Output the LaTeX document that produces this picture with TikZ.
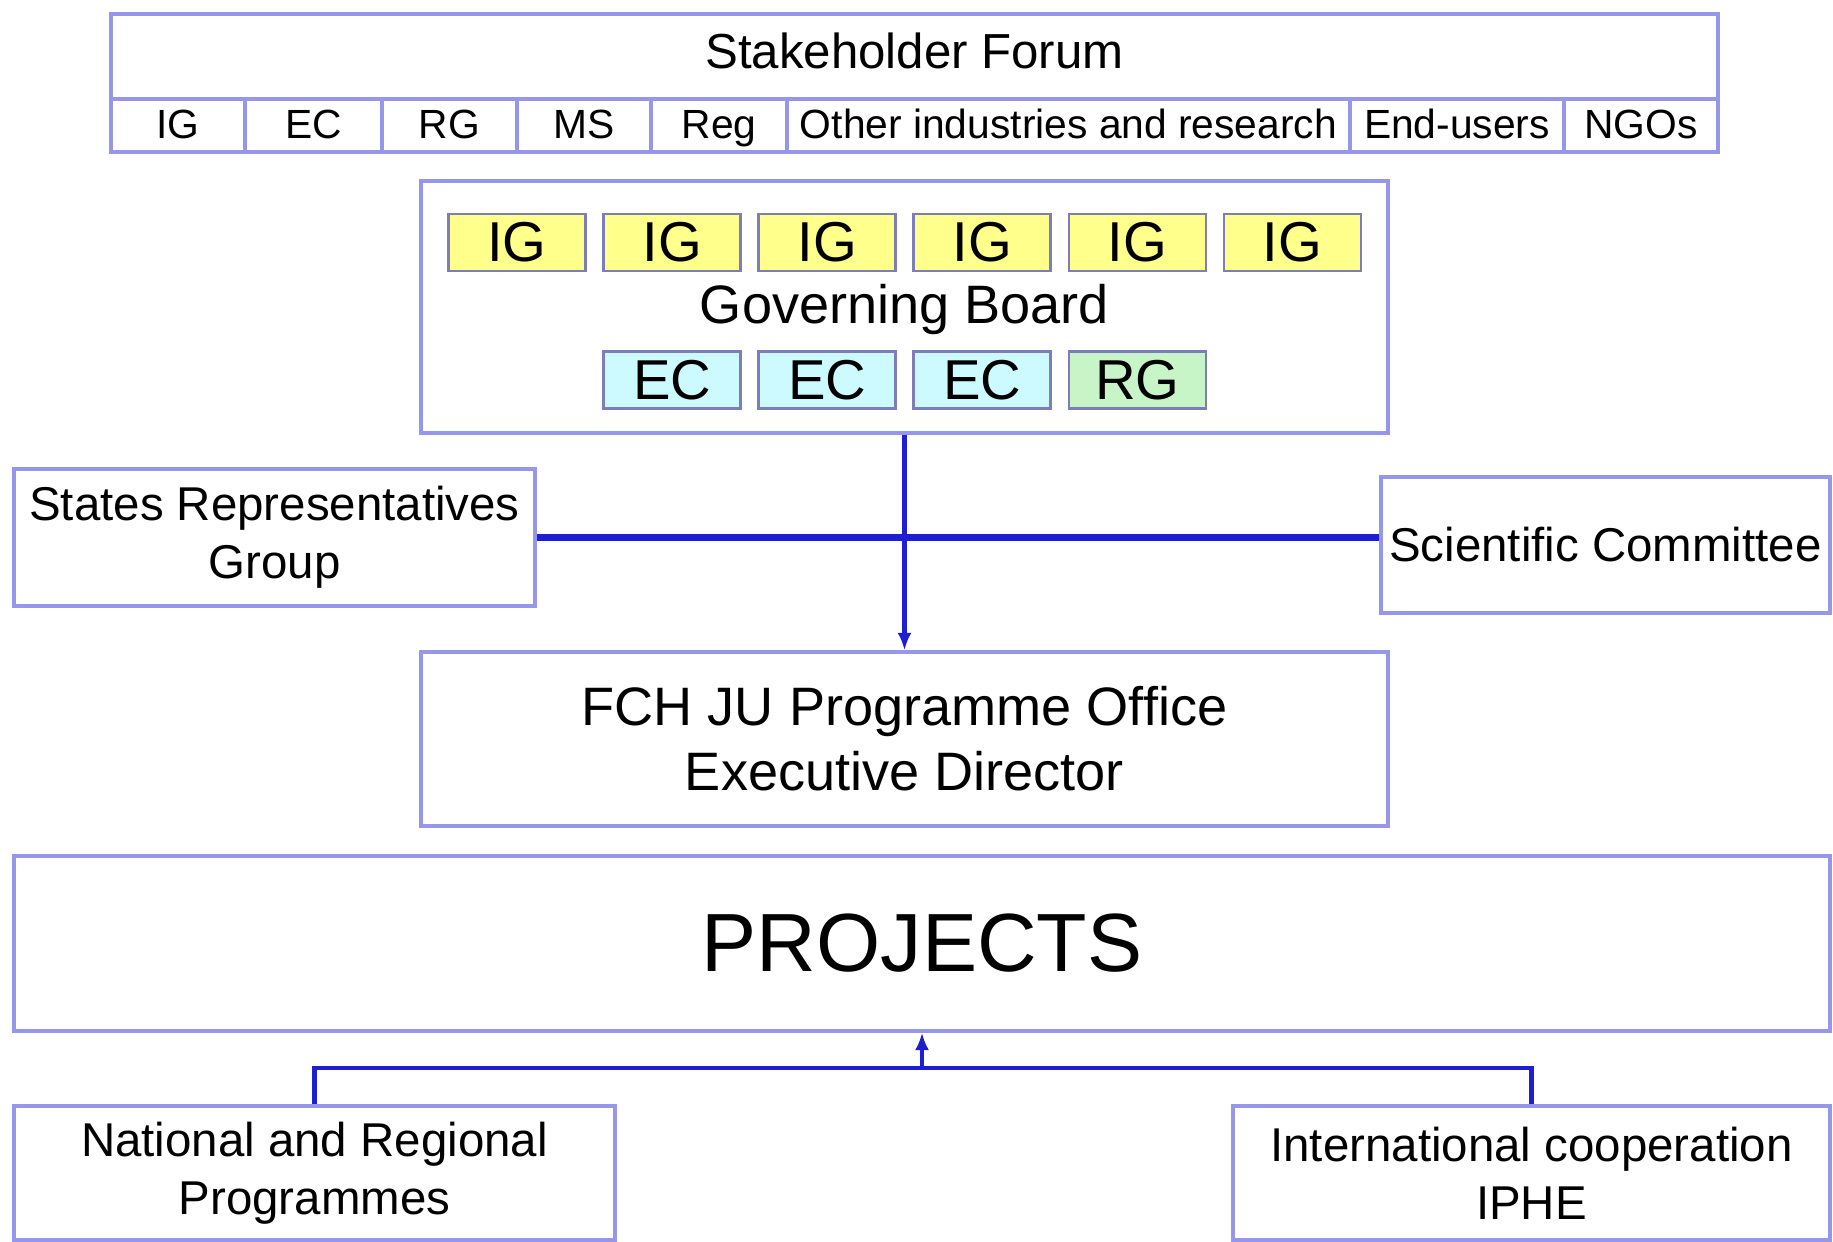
\documentclass[tikz,border=0pt]{standalone}
\usepackage{fontspec}
\setmainfont{Liberation Sans}
\usetikzlibrary{arrows.meta}
\definecolor{frame}{RGB}{150,150,235}
\definecolor{chipline}{RGB}{125,125,185}
\definecolor{linkblue}{RGB}{30,30,210}
\definecolor{igfill}{RGB}{255,255,140}
\definecolor{ecfill}{RGB}{205,250,255}
\definecolor{rgfill}{RGB}{200,245,200}

\begin{document}
\begin{tikzpicture}[
    box/.style={draw=frame,line width=0.9pt,fill=white,inner sep=0pt,align=center},
    chip/.style={draw=chipline,line width=0.8pt,inner sep=0pt,minimum width=1.37cm,minimum height=0.57cm,font=\fontsize{16}{18}\selectfont},
    link/.style={draw=linkblue,line width=1.2pt},
  ]
  \useasboundingbox[fill=white] (0,0) rectangle (18.33,-12.42);

  % stakeholder forum
  \node[box,minimum width=16.07cm,minimum height=0.85cm,text depth=0.12cm,font=\fontsize{14}{16}\selectfont] (forum) at (9.145,-0.565) {Stakeholder Forum};
  \foreach \l/\r/\t [count=\i] in {1.11/2.45/IG,2.45/3.82/EC,3.82/5.17/RG,5.17/6.51/MS,6.51/7.87/Reg,7.87/13.50/Other industries and research,13.50/15.64/End-users,15.64/17.18/NGOs}
    \node[box,minimum width={(\r-\l)*1cm},minimum height=0.53cm,text height=0.78em,text depth=0.06em,font=\fontsize{11.6}{13}\selectfont] (cell\i) at ({(\l+\r)/2},-1.255) {\t};

  % governing board
  \node[box,minimum width=9.67cm,minimum height=2.52cm] (board) at (9.045,-3.07) {};
  \node[font=\fontsize{15.4}{18}\selectfont] (boardname) at (9.045,-3.10) {Governing Board};
  \foreach \i in {0,...,5}
    \node[chip,fill=igfill] (ig\i) at ({5.17+1.551*\i},-2.425) {IG};
  \foreach \i in {1,2,3}
    \node[chip,fill=ecfill] (ec\i) at ({5.17+1.551*\i},-3.80) {EC};
  \node[chip,fill=rgfill] (rg) at ({5.17+1.551*4},-3.80) {RG};

  % side groups
  \node[box,minimum width=5.21cm,minimum height=1.37cm,font=\fontsize{13.5}{16.5}\selectfont] (states) at (2.745,-5.375) {States Representatives\\Group};
  \node[box,minimum width=4.49cm,minimum height=1.36cm,font=\fontsize{13.5}{16.5}\selectfont] (science) at (16.055,-5.45) {Scientific Committee};
  \draw[link,line width=2pt] (states.east) -- (states.east -| science.west);

  % office
  \node[box,minimum width=9.67cm,minimum height=1.74cm,font=\fontsize{15.4}{18.5}\selectfont] (office) at (9.045,-7.39) {FCH JU Programme Office\\Executive Director};
  \draw[link,-{Latex[length=5pt,width=4pt]}] (board.south) -- (office.north);

  % projects
  \node[box,minimum width=18.16cm,minimum height=1.75cm,font=\fontsize{23.5}{28}\selectfont] (projects) at (9.22,-9.435) {PROJECTS};
  \node[box,minimum width=6.01cm,minimum height=1.34cm,font=\fontsize{13.5}{16.5}\selectfont] (national) at (3.145,-11.73) {National and Regional\\Programmes};
  \node[box,minimum width=5.97cm,minimum height=1.34cm,font=\fontsize{13.5}{16.5}\selectfont] (intl) at (15.315,-11.73) {International cooperation\\IPHE};
  \coordinate (join) at (9.22,-10.68);
  \draw[link] (national.north) |- (join) -| (intl.north);
  \draw[link,-{Latex[length=5pt,width=4pt]}] (join) -- (projects.south);
\end{tikzpicture}
\end{document}
